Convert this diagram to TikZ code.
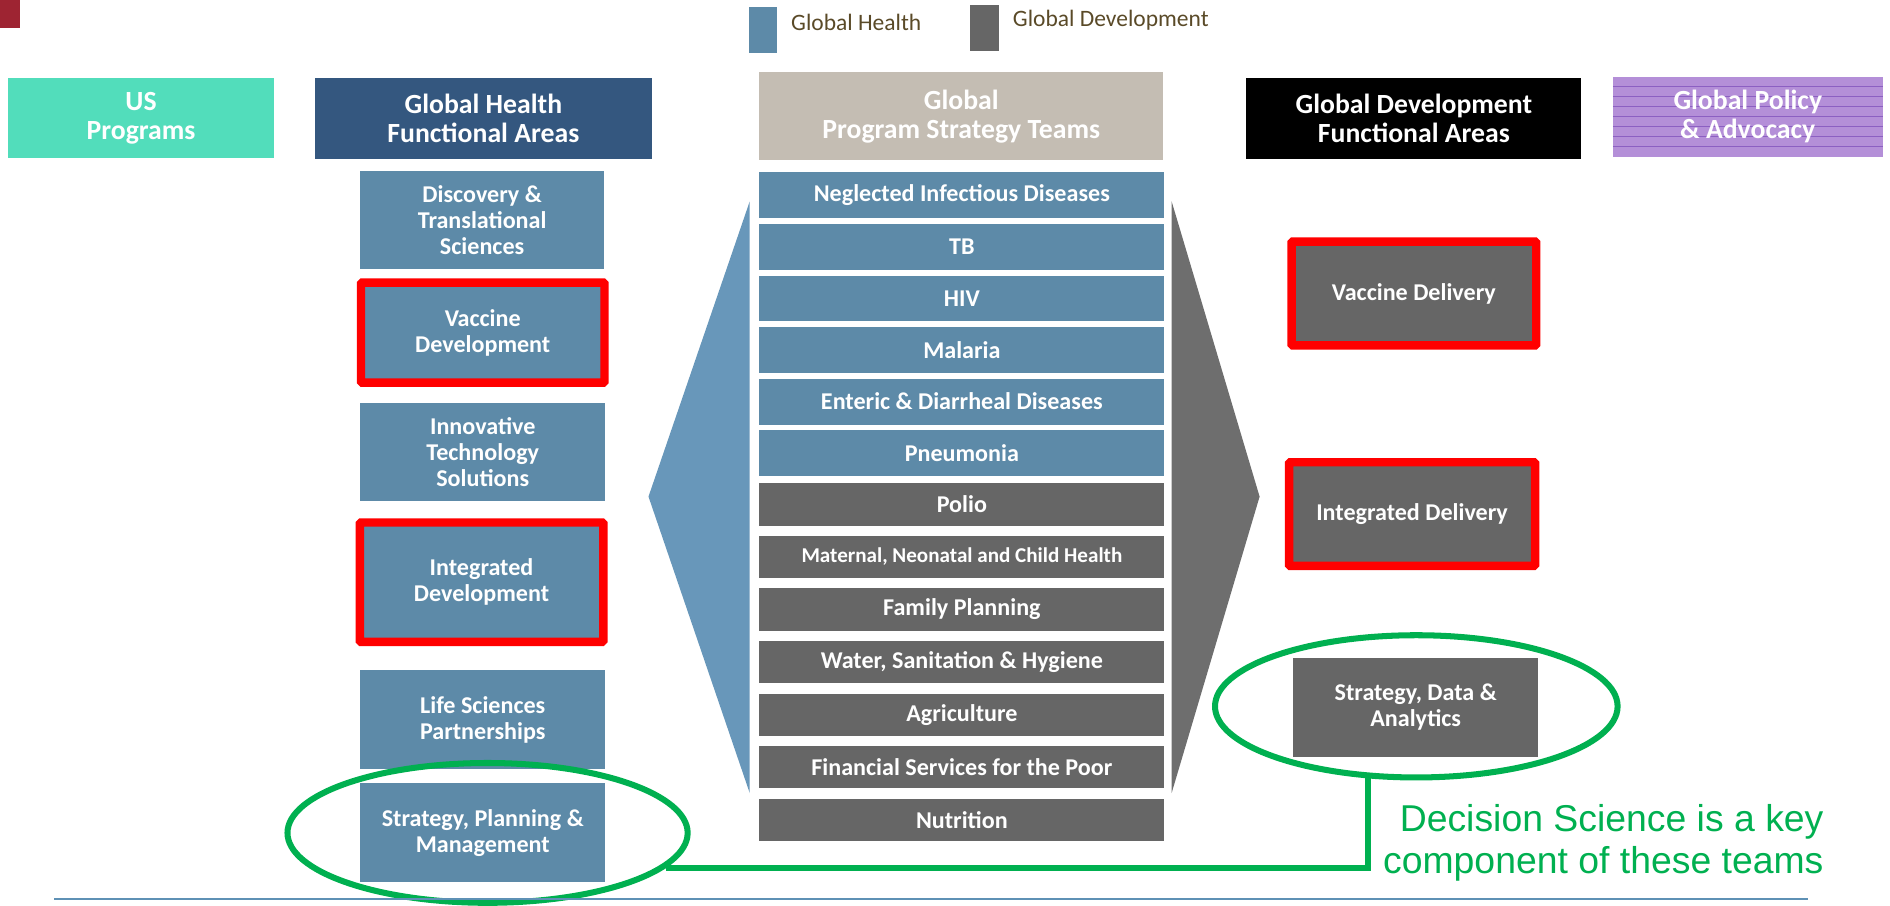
\documentclass[tikz,border=0pt]{standalone}
\usepackage{fontspec}
\setmainfont{Carlito}
\newfontfamily\notefont{Liberation Sans}
\usetikzlibrary{positioning, shapes.geometric}

\definecolor{ghblue}{HTML}{5D8AA8}
\definecolor{gdgray}{HTML}{666666}
\definecolor{hexblue}{HTML}{6897BA}
\definecolor{hexgray}{HTML}{6E6E6E}
\definecolor{navy}{HTML}{34577F}
\definecolor{usteal}{HTML}{52DDBB}
\definecolor{taupe}{HTML}{C4BDB3}
\definecolor{lilac}{HTML}{B48FD8}
\definecolor{lilacline}{HTML}{8C5FC2}
\definecolor{dsgreen}{HTML}{00B050}
\definecolor{keytext}{HTML}{5A4A28}
\definecolor{rulecol}{HTML}{5E91B5}
\definecolor{brick}{HTML}{9E2432}

\begin{document}
\begin{tikzpicture}[x=1pt, y=-1pt,
    box/.style={rectangle, inner sep=0pt, outer sep=0pt, text=white, align=center,
        font=\bfseries\fontsize{20}{21.6}\selectfont},
    head/.style={box, font=\bfseries\fontsize{23}{24}\selectfont},
    gh/.style={box, fill=ghblue, minimum width=203, minimum height=82},
    gd/.style={box, fill=gdgray, minimum width=203, minimum height=82},
    team/.style={box, fill=ghblue, minimum width=336, minimum height=38},
    gdteam/.style={team, fill=gdgray, minimum height=35},
    hot/.style={draw=red, line width=7pt, rounded corners=1pt},
    ring/.style={ellipse, draw=dsgreen, line width=5pt, inner sep=0pt},
    link/.style={draw=dsgreen, line width=5pt},
    key/.style={rectangle, inner sep=0pt, minimum width=24, minimum height=38},
    keylabel/.style={inner sep=0pt, text=keytext, font=\fontsize{19.5}{21}\selectfont},
    note/.style={inner sep=0pt, text=dsgreen, align=right, font=\notefont\fontsize{31}{35}\selectfont}]

    \useasboundingbox (0,0) rectangle (1568,751);
    \fill[brick] (0,0) rectangle (17,23);

    % legend
    \node [key, fill=ghblue] (keygh) at (633,25) {};
    \node [keylabel, right=11pt of keygh, yshift=6pt] (keyghtxt) {Global Health};
    \node [key, fill=gdgray] (keygd) at (817,23.5) {};
    \node [keylabel, right=11pt of keygd, yshift=7pt] (keygdtxt) {Global Development};

    % headers
    \node [head, fill=usteal, minimum width=220, minimum height=66] (us) at (117,98) {US\\Programs};
    \node [head, fill=navy, minimum width=280, minimum height=67] (ghfa) at (401,98.5) {Global Health\\Functional Areas};
    \node [head, fill=taupe, minimum width=335, minimum height=73] (gpst) at (797.5,96.5) {Global\\Program Strategy Teams};
    \node [head, fill=black, minimum width=278, minimum height=67] (gdfa) at (1173,98.5) {Global Development\\Functional Areas};
    \node [head, fill=lilac, minimum width=224, minimum height=66,
        path picture={\foreach \k in {1,...,7}
            \draw[lilacline, line width=0.8pt] ([yshift=-(8.4*\k-1)*1pt]path picture bounding box.north west)
                -- ([yshift=-(8.4*\k-1)*1pt]path picture bounding box.north east);}]
        (gpa) at (1450,97) {Global Policy\\\& Advocacy};

    % side wings of the middle column
    \fill[hexblue] (622,167) -- (538,412) -- (622,658) -- cycle;
    \fill[hexgray] (972,167) -- (1045,412) -- (972,658) -- cycle;

    % global health functional areas
    \node [gh] (disc) at (400,182.5) {Discovery \&\\Translational\\Sciences};
    \node [gh, hot, minimum width=202, minimum height=83] (vacdev) at (400.5,276) {Vaccine\\Development};
    \node [gh] (innov) at (400.5,375) {Innovative\\Technology\\Solutions};
    \node [gh, hot, minimum width=202, minimum height=99] (intdev) at (399.5,483) {Integrated\\Development};
    \node [gh] (life) at (400.5,597) {Life Sciences\\Partnerships};
    \node [gh] (spm) at (400.5,691) {Strategy, Planning \&\\Management};

    % program strategy teams
    \node [team] (nid) at (798,162) {Neglected Infectious Diseases};
    \node [team, below=4.8pt of nid] (tb) {TB};
    \node [team, below=4.8pt of tb] (hiv) {HIV};
    \node [team, below=4.8pt of hiv] (malaria) {Malaria};
    \node [team, below=4.8pt of malaria] (enteric) {Enteric \& Diarrheal Diseases};
    \node [team, below=4.8pt of enteric] (pneu) {Pneumonia};
    \node [gdteam, below=6pt of pneu] (polio) {Polio};
    \node [gdteam, below=8.6pt of polio, font=\bfseries\fontsize{17.5}{19}\selectfont] (mnch) {Maternal, Neonatal and Child Health};
    \node [gdteam, below=8.6pt of mnch] (fp) {Family Planning};
    \node [gdteam, below=8.6pt of fp] (wash) {Water, Sanitation \& Hygiene};
    \node [gdteam, below=8.6pt of wash] (agri) {Agriculture};
    \node [gdteam, below=8.6pt of agri] (fin) {Financial Services for the Poor};
    \node [gdteam, below=8.6pt of fin] (nutr) {Nutrition};

    % global development functional areas
    \node [gd, hot, minimum width=203, minimum height=86] (vacdel) at (1173,243.5) {Vaccine Delivery};
    \node [gd, hot, minimum width=204, minimum height=86] (intdel) at (1171.5,426.5) {Integrated Delivery};
    \node [gd] (sda) at (1174.5,587) {Strategy, Data \&\\Analytics};

    % decision science
    \node [ring, minimum width=332, minimum height=116] (ringL) at (404.5,691) {};
    \node [ring, minimum width=334, minimum height=118] (ringR) at (1175,586) {};
    \draw [link] (ringL.-11) -| (ringR.236);
    \node [note, anchor=north east] (dsnote) at (1513,667) {Decision Science is a key\\component of these teams};

    \draw [rulecol, line width=1.5pt] (45,746) -- (1500,746);
\end{tikzpicture}
\end{document}
